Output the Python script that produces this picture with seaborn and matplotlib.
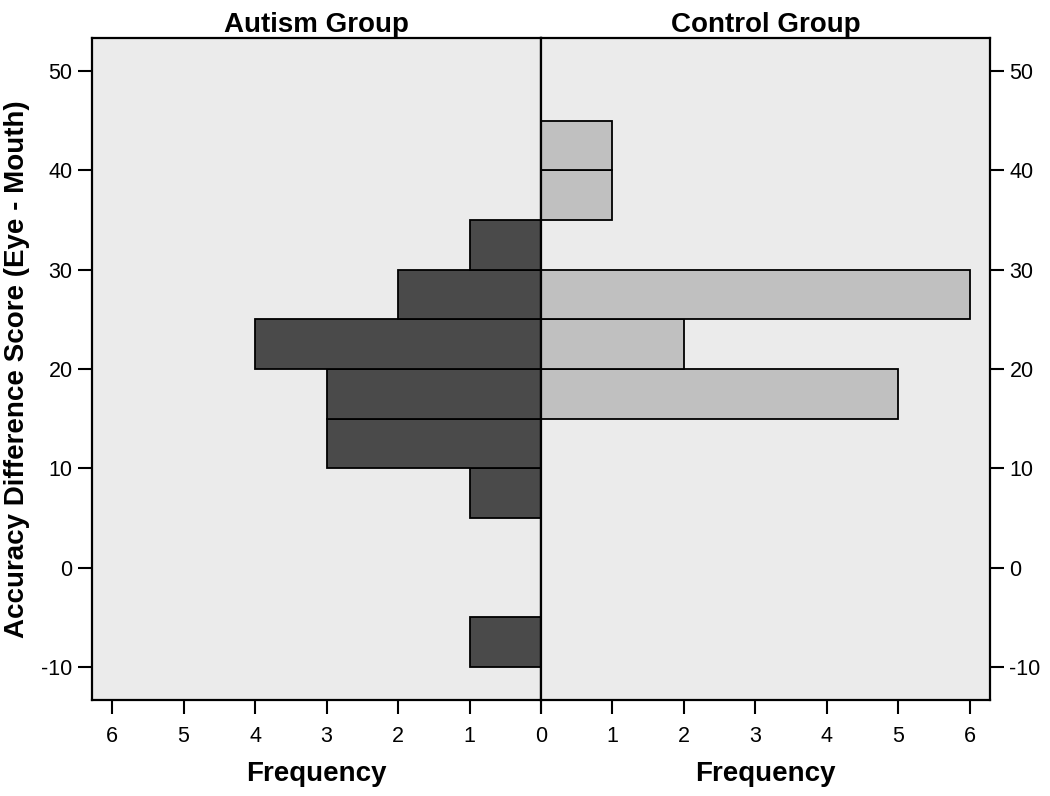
import numpy as np
import pandas as pd
import matplotlib
matplotlib.use("Agg")
import matplotlib.pyplot as plt
import seaborn as sns

sns.set_theme(style="ticks")
plt.rcParams['font.family'] = ['Liberation Sans', 'DejaVu Sans']
plt.rcParams['text.color'] = 'black'
plt.rcParams['axes.labelcolor'] = 'black'

bin_edges = [-10, -5, 0, 5, 10, 15, 20, 25, 30, 35, 40, 45]
bin_centers = [-7.5, -2.5, 2.5, 7.5, 12.5, 17.5, 22.5, 27.5, 32.5, 37.5, 42.5]
autism_counts = [1, 0, 0, 1, 3, 3, 4, 2, 1, 0, 0]
control_counts = [0, 0, 0, 0, 0, 5, 2, 6, 0, 1, 1]
y_ticks = [-10, 0, 10, 20, 30, 40, 50]
x_ticks = [0, 1, 2, 3, 4, 5, 6]

df = pd.DataFrame({"center": bin_centers, "autism": autism_counts, "control": control_counts})

fig = plt.figure(figsize=(10.5, 7.96), dpi=100)
bg = "#ebebeb"
axL = fig.add_axes([92/1050, 1-700/796, (541-92)/1050, (700-38)/796])
axR = fig.add_axes([541/1050, 1-700/796, (990-541)/1050, (700-38)/796])

sns.histplot(data=df, y="center", weights="autism", bins=bin_edges, ax=axL,
             color="#4a4a4a", edgecolor="black", linewidth=1.3, alpha=1)
sns.histplot(data=df, y="center", weights="control", bins=bin_edges, ax=axR,
             color="#c0c0c0", edgecolor="black", linewidth=1.3, alpha=1)

for ax in (axL, axR):
    ax.set_facecolor(bg)
    ax.set_xlim(0, 6.28)
    ax.set_ylim(-13.3, 53.3)
    ax.set_xticks(x_ticks)
    ax.set_yticks(y_ticks)
    ax.set_xlabel("Frequency", fontsize=20, fontweight="bold", labelpad=10)
    ax.tick_params(axis="both", direction="out", length=10, width=1.5, colors="black",
                   labelsize=15.5, pad=4)
    ax.tick_params(axis="x", bottom=True, top=False, pad=9)
    for s in ax.spines.values():
        s.set_visible(True)
        s.set_color("black")
        s.set_linewidth(1.6)

axL.invert_xaxis()
axL.set_xticklabels([str(t) if t != 0 else "" for t in x_ticks])
axR.set_xticklabels([str(t) for t in x_ticks])
axL.set_ylabel("Accuracy Difference Score (Eye - Mouth)", fontsize=20, fontweight="bold", labelpad=8)
axL.set_yticklabels([str(t) for t in y_ticks])
axR.set_ylabel("")
axR.yaxis.tick_right()
axR.set_yticklabels([str(t) for t in y_ticks])
axR.tick_params(axis="y", left=False, right=True)
axL.tick_params(axis="y", left=True, right=False)

axL.set_title("Autism Group", fontsize=20, fontweight="bold", pad=4)
axR.set_title("Control Group", fontsize=20, fontweight="bold", pad=4)

fig.savefig("out.png", dpi=100, facecolor="white")
